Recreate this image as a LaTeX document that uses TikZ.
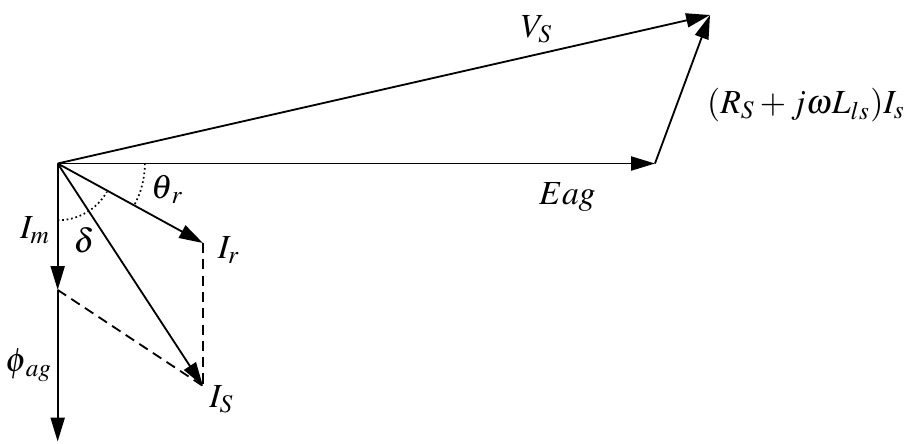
\documentclass[tikz,border=0pt]{standalone}
\usepackage{mathptmx}
\usepackage{tikz}
\usetikzlibrary{arrows.meta}

\begin{document}
\begin{tikzpicture}[>={Triangle[length=8.5pt,width=5pt]},line width=0.65pt,font=\large,
    lbl/.style={inner sep=0pt}]
    \useasboundingbox (-0.721,-3.506) rectangle (10.679,2.044);
    % phasor end points
    \coordinate (O)   at (0,0);
    \coordinate (Vs)  at (8.154,1.856);
    \coordinate (E)   at (7.466,0);
    \coordinate (Ir)  at (1.816,-0.994);
    \coordinate (Is)  at (1.816,-2.781);
    \coordinate (Im)  at (0,-1.58);
    \coordinate (Phi) at (0,-3.475);
    % dotted angle arcs
    \draw[densely dotted,line width=0.6pt] (1.09,0) arc[start angle=0,end angle=-28.7,radius=1.09];
    \draw[densely dotted,line width=0.6pt] (0,-0.71) arc[start angle=-90,end angle=-30,radius=0.71];
    % dashed projections
    \draw[dash pattern=on 3.6pt off 2.2pt] (Im) -- (Is);
    \draw[dash pattern=on 3.6pt off 2.2pt] (Ir) -- (Is);
    % phasors
    \draw[->] (O) -- (Vs);
    \draw[->] (O) -- (E);
    \draw[->] (E) -- (Vs);
    \draw[->] (O) -- (Ir);
    \draw[->] (O) -- (Is);
    \draw[->] (O) -- (Im);
    \draw[->] (Im) -- (Phi);
    % labels
    \node[lbl] (lVs)  at (5.99,1.68)   {$V_S$};
    \node[lbl] (lE)   at (6.37,-0.42)  {$Eag$};
    \node[lbl] (lZ)   at (9.355,0.73)  {$(R_S+j\omega L_{ls})I_s$};
    \node[lbl] (lth)  at (1.37,-0.32)  {$\theta_{\,r}$};
    \node[lbl] (lIm)  at (-0.28,-0.83) {$I_m$};
    \node[lbl] (ldel) at (0.33,-0.96)  {$\delta$};
    \node[lbl] (lIr)  at (2.14,-1.08)  {$I_r$};
    \node[lbl] (lIs)  at (2.05,-2.95)  {$I_S$};
    \node[lbl] (lphi) at (-0.36,-2.52) {$\phi_{\,ag}$};
\end{tikzpicture}
\end{document}
